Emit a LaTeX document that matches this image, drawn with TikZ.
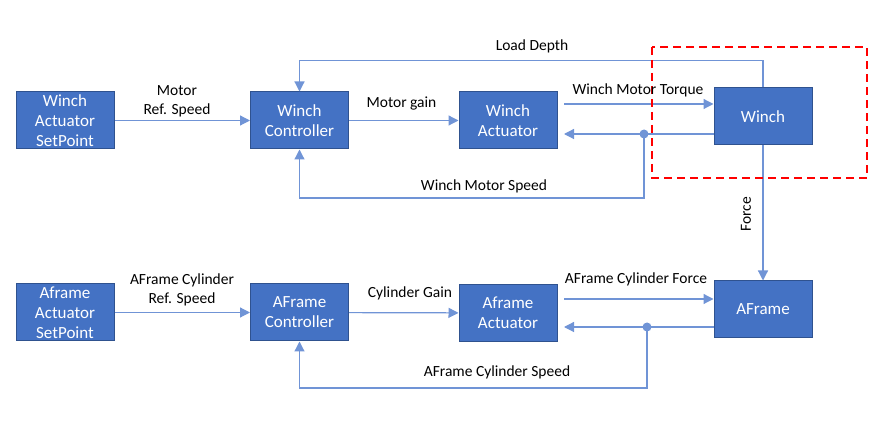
\documentclass[tikz,border=0pt]{standalone}
\usepackage{fontspec}
\setmainfont{Carlito}
\usetikzlibrary{arrows.meta}
\definecolor{bb}{RGB}{68, 114, 196}
\definecolor{dd}{RGB}{47, 82, 143}
\definecolor{ll}{RGB}{112, 148, 214}
\definecolor{rr}{RGB}{255, 0, 0}

\begin{document}
\begin{tikzpicture}[x=1pt, y=-1pt,
  box/.style={rectangle, minimum width=98pt, minimum height=57pt, fill=bb, draw=dd, line width=1pt, text=white, align=center, inner sep=0pt, font=\fontsize{17}{20}\selectfont},
  wire/.style={line width=1.2pt, color=ll},
  tip/.style={wire, -{Triangle[length=10pt, width=10pt]}},
  lbl/.style={align=center, inner sep=0pt, font=\fontsize{15.5}{19}\selectfont},
  dot/.style={circle, fill=ll, minimum size=9pt, inner sep=0pt}]
\useasboundingbox (0,0) rectangle (894,427);
% winch loop
\node (1) [box] at (65, 120.5) {Winch\\Actuator\\SetPoint};
\node (2) [box] at (299.5, 120.5) {Winch\\Controller};
\node (3) [box] at (508, 120.5) {Winch\\Actuator};
\node (4) [box] at (763, 116.5) {Winch};
% aframe loop
\node (5) [box] at (65, 312.5) {Aframe\\Actuator\\SetPoint};
\node (6) [box] at (299.5, 312.5) {AFrame\\Controller};
\node (7) [box] at (508, 313) {Aframe\\Actuator};
\node (8) [box] at (763, 309.5) {AFrame};
\coordinate (t1) at (564, 104);
\coordinate (a1) at (564, 134);
\node (d1) [dot] at (644, 134) {};
\coordinate (c1) at (644, 198);
\coordinate (t2) at (564, 299);
\coordinate (a2) at (564, 327);
\node (d2) [dot] at (647, 327) {};
\coordinate (c2) at (647, 388);
\draw [tip] (1) to (2);
\draw [tip] (2) to (3);
\draw [tip] (t1) to (t1 -| 4.west);
\draw [tip] (a1 -| 4.west) to (a1);
\draw [tip] (d1.center) -- (c1) -| (2.south);
\draw [tip] (4.north) --++ (0,-27) -| (2.north);
\draw [tip] (4.south) to (8.north);
\draw [tip] (5) to (6);
\draw [tip] (6) to (7);
\draw [tip] (t2) to (t2 -| 8.west);
\draw [tip] (a2 -| 8.west) to (a2);
\draw [tip] (d2.center) -- (c2) -| (6.south);
\draw [rr, line width=2pt, dash pattern=on 8pt off 5pt] (652, 47) rectangle (867, 178);
\node (l1) [lbl] at (177, 101.5) {Motor\\Ref. Speed};
\node (l2) [lbl] at (401.5, 104) {Motor gain};
\node (l3) [lbl] at (532, 46) {Load Depth};
\node (l4) [lbl] at (638, 90) {Winch Motor Torque};
\node (l5) [lbl] at (484, 186.5) {Winch Motor Speed};
\node (l6) [lbl, rotate=90] at (746, 214) {Force};
\node (l7) [lbl] at (182, 290) {AFrame Cylinder\\Ref. Speed};
\node (l8) [lbl] at (410, 293) {Cylinder Gain};
\node (l9) [lbl] at (636, 279) {AFrame Cylinder Force};
\node (l10) [lbl] at (497, 372) {AFrame Cylinder Speed};
\end{tikzpicture}
\end{document}
